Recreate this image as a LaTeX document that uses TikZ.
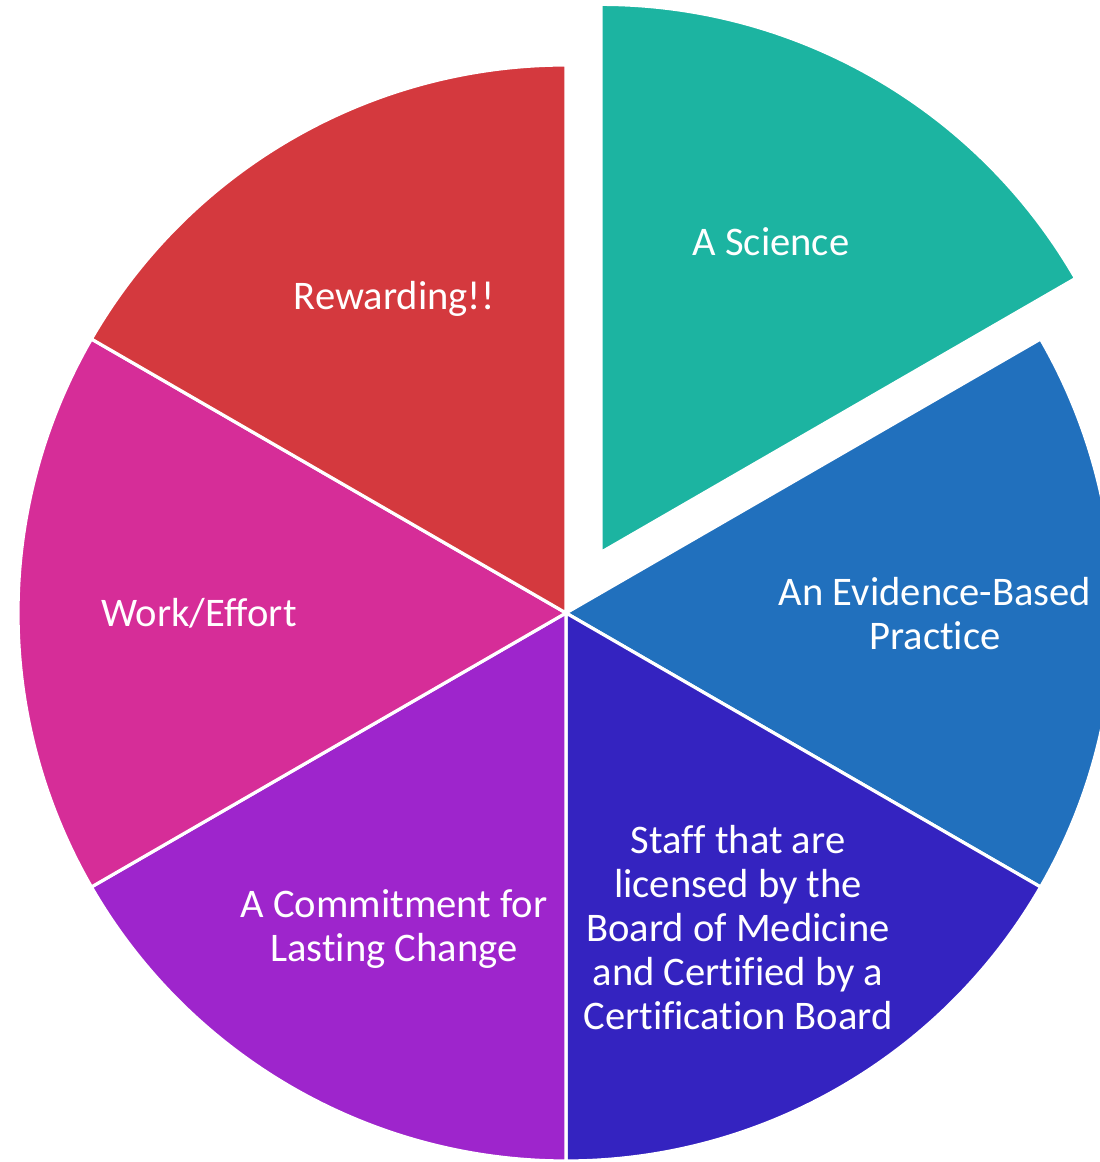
\documentclass[tikz,border=0pt]{standalone}
\usepackage{fontspec}
\setmainfont[Ligatures=NoCommon]{Carlito}
\definecolor{sciteal}{HTML}{1CB4A1}
\definecolor{evblue}{HTML}{2170BD}
\definecolor{staffind}{HTML}{3423C0}
\definecolor{compurple}{HTML}{9E25CC}
\definecolor{workmag}{HTML}{D62D98}
\definecolor{rewred}{HTML}{D4393E}
\tikzset{
  wedge/.style={draw=white, line width=1.6pt, line join=miter},
  lbl/.style={text=white, align=center, inner sep=0pt, font=\fontsize{20.3}{22}\selectfont}
}
\begin{document}
\begin{tikzpicture}[x=0.5pt,y=0.5pt]
    \useasboundingbox (0,0) rectangle (1099,1162);
    \coordinate (c) at (566,549);
    \coordinate (ct) at ([shift={(60:70)}]c);
    % exploded slice
    \filldraw[fill=sciteal, wedge] (ct) -- ++(30:548) arc[start angle=30, delta angle=60, radius=548] -- cycle;
    \foreach \a/\col in {-30/evblue, -90/staffind, 210/compurple, 150/workmag, 90/rewred}
        \filldraw[fill=\col, wedge] (c) -- ++(\a:548) arc[start angle=\a, delta angle=60, radius=548] -- cycle;
    % labels
    \node[lbl] (science) at (771,920) {A Science};
    \node[lbl] (evidence) at (935,548) {An Evidence-Based\\Practice};
    \node[lbl] (staff) at (738,234) {Staff that are\\licensed by the\\Board of Medicine\\and Certified by a\\Certification Board};
    \node[lbl] (commit) at (394,233) {A Commitment for\\Lasting Change};
    \node[lbl] (work) at (199,549) {Work/Effort};
    \node[lbl] (reward) at (394,863) {Rewarding!!};
\end{tikzpicture}
\end{document}
